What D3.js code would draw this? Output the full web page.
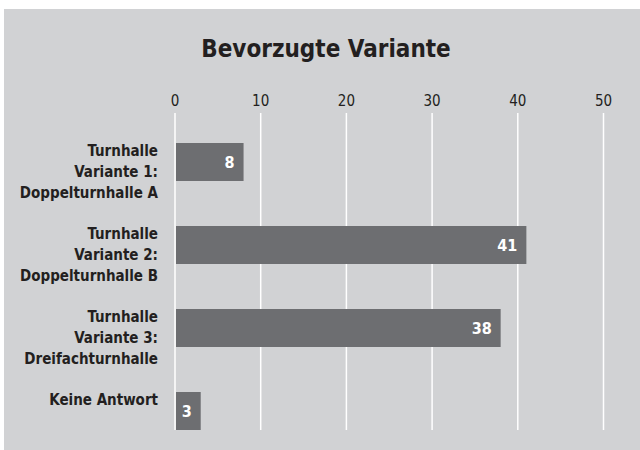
<!DOCTYPE html>
<html>
<head>
<meta charset="utf-8">
<script src="https://cdn.jsdelivr.net/npm/d3@7"></script>
<style>
  body { margin: 0; background: #fff; }
  svg text { font-family: "DejaVu Sans Condensed", "DejaVu Sans", sans-serif; font-stretch: condensed; }
</style>
</head>
<body>
<div id="chart"></div>
<script>
const categories = [
  ["Turnhalle", "Variante 1:", "Doppelturnhalle A"],
  ["Turnhalle", "Variante 2:", "Doppelturnhalle B"],
  ["Turnhalle", "Variante 3:", "Dreifachturnhalle"],
  ["Keine Antwort"]
];
const values = [8, 41, 38, 3];
const ticks = [0, 10, 20, 30, 40, 50];
const title = "Bevorzugte Variante";

const width = 640;
const height = 450;

const svg = d3.select("#chart").append("svg")
  .attr("width", width)
  .attr("height", height);

// grauer Hintergrund
svg.append("rect")
  .attr("x", 4).attr("y", 9)
  .attr("width", width - 4).attr("height", height - 9)
  .attr("fill", "#d1d2d4");

svg.append("text")
  .attr("x", 326).attr("y", 57)
  .attr("text-anchor", "middle")
  .style("font-size", "24px")
  .style("font-weight", "bold")
  .attr("fill", "#231f20")
  .text(title);

const x = d3.scaleLinear().domain([0, 50]).range([175, 603.5]);

// Balken 38px hoch, Abstand 83px
const step = 83, barH = 38, top0 = 143;
const yPos = d3.scaleLinear()
  .domain([0, categories.length - 1])
  .range([top0, top0 + step * (categories.length - 1)]);

// Gitterlinien
svg.append("g")
  .selectAll("line")
  .data(ticks)
  .join("line")
  .attr("x1", d => x(d)).attr("x2", d => x(d))
  .attr("y1", 113).attr("y2", 430)
  .attr("stroke", "#fff")
  .attr("stroke-width", 1.5);

svg.append("g")
  .selectAll("text")
  .data(ticks)
  .join("text")
  .attr("x", d => x(d))
  .attr("y", 106)
  .attr("text-anchor", "middle")
  .style("font-size", "15px")
  .attr("fill", "#231f20")
  .text(d => d);

// Balken
svg.append("g")
  .selectAll("rect")
  .data(values)
  .join("rect")
  .attr("x", x(0) + 1)
  .attr("y", (d, i) => yPos(i))
  .attr("width", d => x(d) - x(0) - 1)
  .attr("height", barH)
  .attr("fill", "#6d6e71");

svg.append("g")
  .selectAll("text")
  .data(values)
  .join("text")
  .attr("x", d => x(d) - 9)
  .attr("y", (d, i) => yPos(i) + barH / 2 + 6)
  .attr("text-anchor", "end")
  .style("font-size", "16px")
  .style("font-weight", "bold")
  .attr("fill", "#fff")
  .text(d => d);

// Kategorien
const labels = svg.append("g")
  .selectAll("text")
  .data(categories)
  .join("text")
  .attr("text-anchor", "end")
  .style("font-size", "15px")
  .style("font-weight", "bold")
  .attr("fill", "#231f20");

labels.selectAll("tspan")
  .data((d, i) => d.map(line => ({ line, i })))
  .join("tspan")
  .attr("x", 158)
  .attr("y", (d, j) => yPos(d.i) + 13 + j * 20.8)
  .text(d => d.line);
</script>
</body>
</html>
